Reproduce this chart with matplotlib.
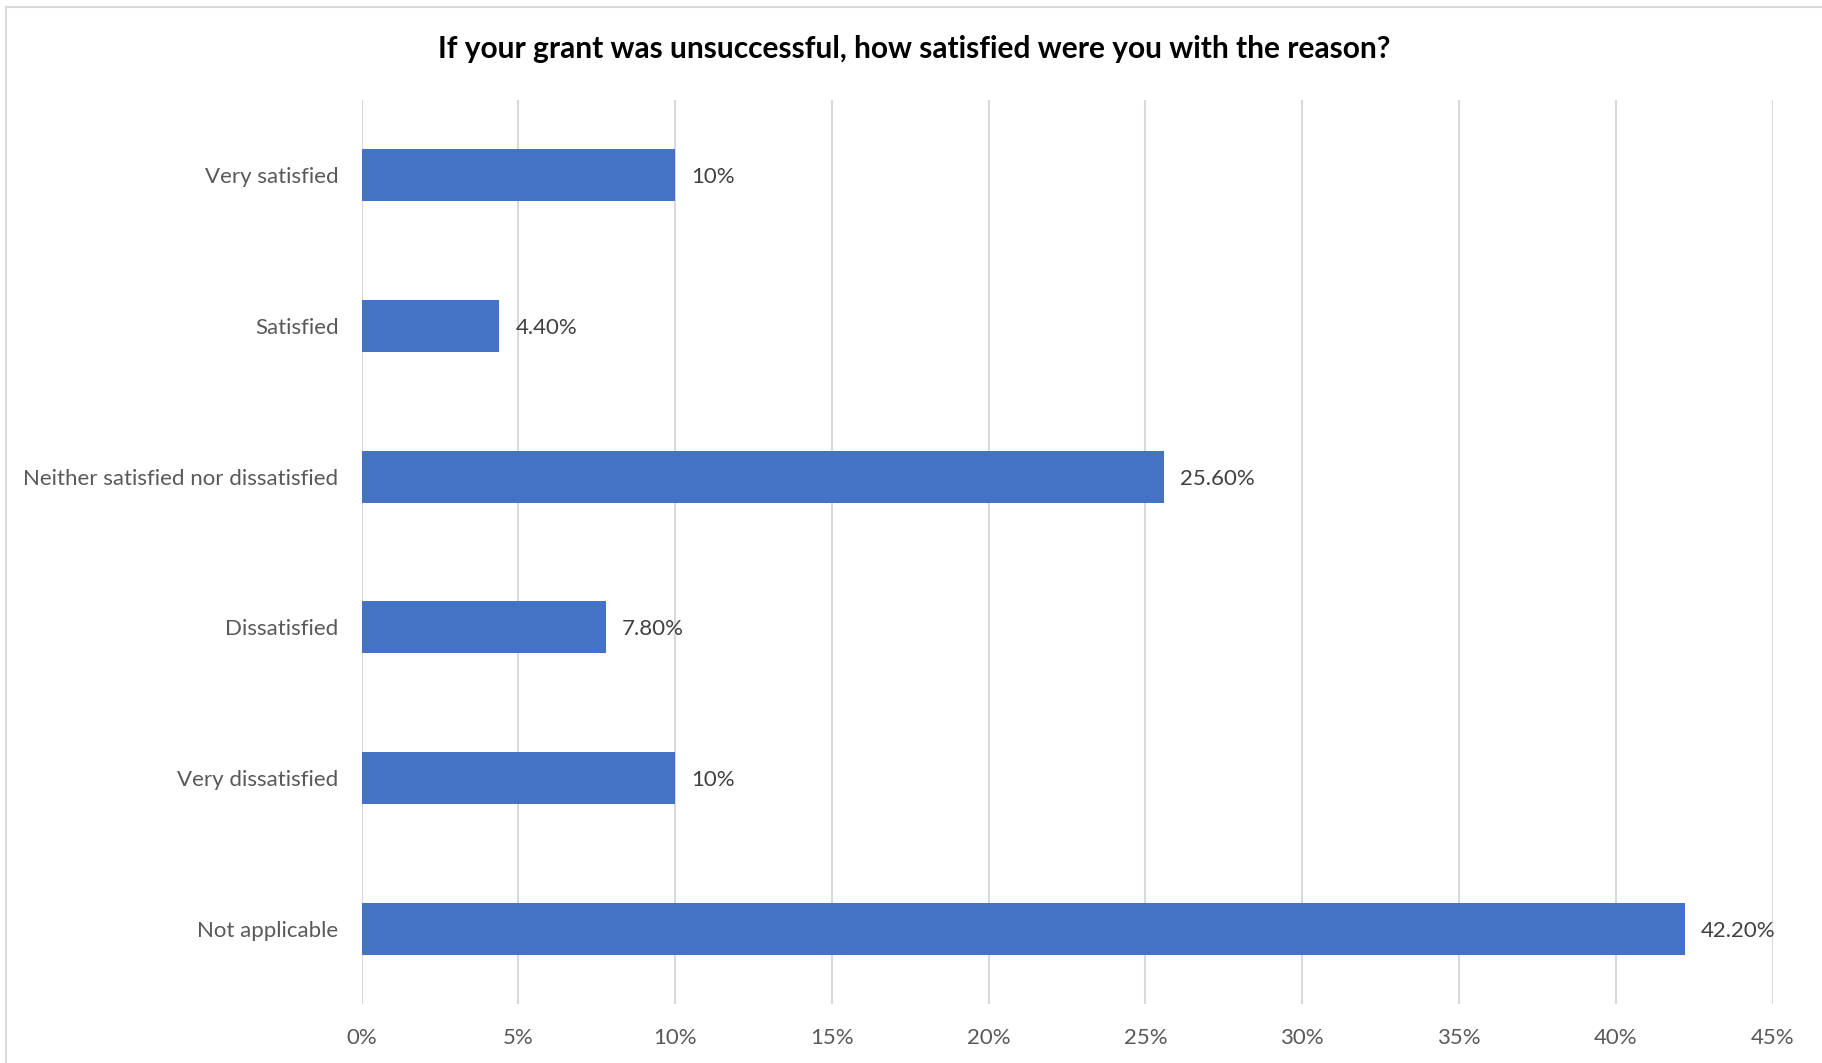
import matplotlib
matplotlib.use("Agg")
import matplotlib.pyplot as plt
from matplotlib.patches import Rectangle
from matplotlib.ticker import MultipleLocator, FuncFormatter

categories = ["Very satisfied", "Satisfied", "Neither satisfied nor dissatisfied",
              "Dissatisfied", "Very dissatisfied", "Not applicable"]
values = [10.0, 4.4, 25.6, 7.8, 10.0, 42.2]
value_labels = ["10%", "4.40%", "25.60%", "7.80%", "10%", "42.20%"]
title = "If your grant was unsuccessful, how satisfied were you with the reason?"

W, H = 1822, 1063
plt.rcParams["font.family"] = ["Lato", "DejaVu Sans"]
fig = plt.figure(figsize=(W / 100, H / 100), dpi=100)

# light chart-area frame
fig.patches.append(Rectangle((6 / W, -0.1), 1.2, 1 - 7 / H + 0.1, transform=fig.transFigure,
                             facecolor="none", edgecolor="#d9d9d9", linewidth=1.5))

left, right = 361.5, 1772.6
top, bottom = 100, 1004
ax = fig.add_axes([left / W, 1 - bottom / H, (right - left) / W, (bottom - top) / H])

ypos = list(range(len(categories)))
ax.barh(ypos, values, height=0.345, color="#4472C4", zorder=3)
ax.set_ylim(len(categories) - 0.5, -0.5)
ax.set_xlim(0, 45)
ax.xaxis.set_major_locator(MultipleLocator(5))
ax.xaxis.set_major_formatter(FuncFormatter(lambda v, p: f"{v:.0f}%"))
ax.set_yticks(ypos)
ax.set_yticklabels(categories)
ax.grid(axis="x", color="#d9d9d9", linewidth=1.5, zorder=0)
for s in ax.spines.values():
    s.set_visible(False)
ax.tick_params(axis="both", length=0, labelsize=16, labelcolor="#595959")
ax.tick_params(axis="y", pad=16.5)
ax.tick_params(axis="x", pad=17)

for y, v, lab in zip(ypos, values, value_labels):
    ax.annotate(lab, (v, y), xytext=(16, 0), textcoords="offset pixels",
                va="center_baseline", ha="left", fontsize=16, color="#404040")

fig.text(914 / W, 1 - 49 / H, title, ha="center", va="center",
         fontsize=21.5, fontweight="bold", color="#000000")

fig.savefig("out.png", dpi=100, facecolor="white")
